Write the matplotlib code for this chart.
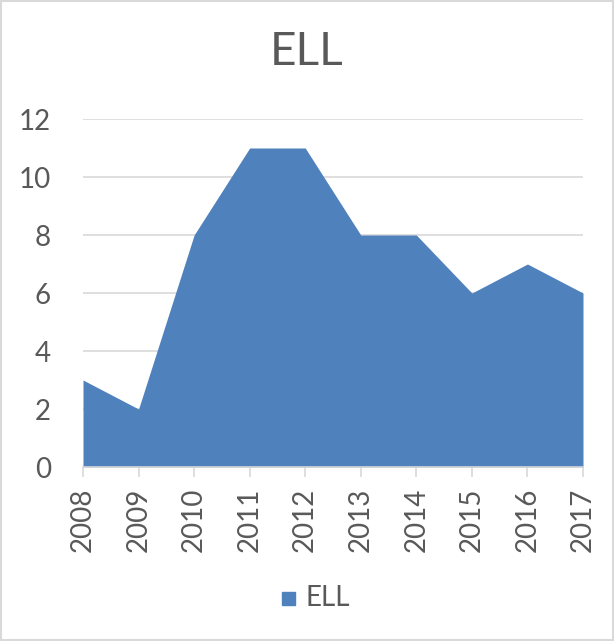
import numpy as np
import matplotlib.pyplot as plt
from matplotlib.patches import Rectangle

# ELL counts by year
years = ['2008', '2009', '2010', '2011', '2012', '2013', '2014', '2015', '2016', '2017']
ell = [3, 2, 8, 11, 11, 8, 8, 6, 7, 6]

plt.rcParams['font.family'] = ['Lato', 'DejaVu Sans']
text_col = '#595959'
fill_col = '#4F81BD'
grid_col = '#D9D9D9'

fig = plt.figure(figsize=(6.14, 6.41), dpi=100)
ax = fig.add_axes([83 / 614, 1 - 467 / 641, 500 / 614, 348 / 641])

x = np.arange(len(years))
ax.fill_between(x, 0, ell, color=fill_col, linewidth=0, zorder=2)

ax.set_xlim(0, len(years) - 1)
ax.set_ylim(0, 12)
ax.set_yticks(range(0, 13, 2))
ax.set_xticks(x)
ax.set_xticklabels(years, rotation=90)
ax.yaxis.grid(True, color=grid_col, linewidth=1.2, zorder=0)
ax.set_axisbelow(True)

for s in ['top', 'right', 'left']:
    ax.spines[s].set_visible(False)
ax.spines['bottom'].set_color(grid_col)
ax.spines['bottom'].set_linewidth(1.2)
ax.tick_params(axis='y', length=0, pad=23, labelsize=20, labelcolor=text_col)
ax.tick_params(axis='x', length=7, width=1.2, color=grid_col, pad=8,
               labelsize=20, labelcolor=text_col)

fig.text(0.5, 1 - 52 / 641, 'ELL', ha='center', va='center', fontsize=33, color=text_col)

# legend entry
fig.patches.append(Rectangle((282 / 614, 1 - 605 / 641), 13 / 614, 13 / 641,
                             transform=fig.transFigure, color=fill_col))
fig.text(306 / 614, 1 - 598 / 641, 'ELL', ha='left', va='center', fontsize=20, color=text_col)

# chart border
fig.patches.append(Rectangle((0.002, 0.002), 0.996, 0.996, transform=fig.transFigure,
                             fill=False, edgecolor='#D9D9D9', linewidth=1.5))

fig.savefig('out.png', dpi=100)
